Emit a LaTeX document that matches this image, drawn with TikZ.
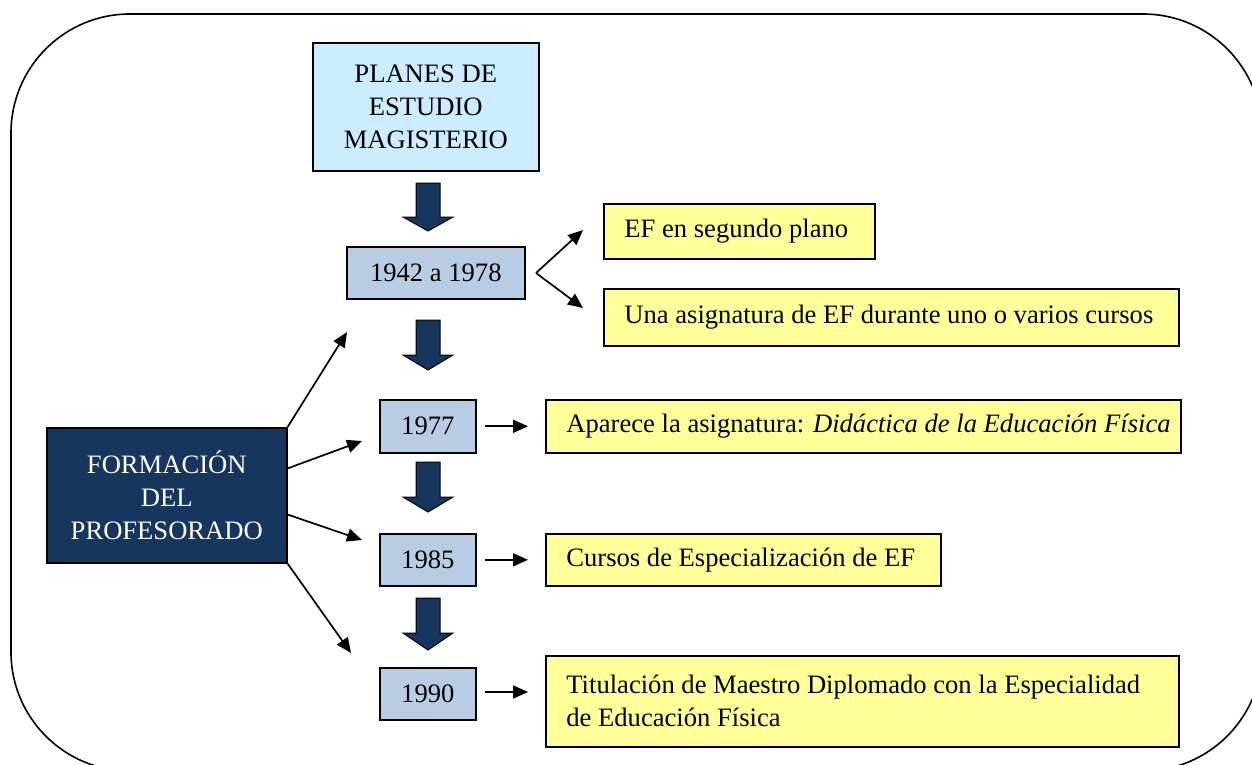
\documentclass[tikz,border=0pt]{standalone}
\usepackage{fontspec}
\setmainfont{Liberation Serif}
\usetikzlibrary{arrows.meta}
\definecolor{navy}{RGB}{23,54,93}
\definecolor{yearblue}{RGB}{184,204,228}
\definecolor{planblue}{RGB}{204,236,255}
\definecolor{noteyellow}{RGB}{255,255,153}
\tikzset{
  txt/.style={font=\fontsize{13.3}{16.5}\selectfont},
  box/.style={draw=black, line width=0.8pt, anchor=north west, inner sep=0pt, txt},
  yearbox/.style={box, fill=yearblue, minimum width=48pt, minimum height=26pt},
  notebox/.style={box, fill=noteyellow},
  notetext/.style={txt, anchor=west, inner sep=0pt, align=left},
  arr/.style={line width=0.85pt, -{Triangle[length=7.5pt,width=6.5pt]}},
  blk/.style={draw=black, line width=0.5pt, fill=navy},
  frame/.style={draw=black, line width=0.8pt, rounded corners=59.5pt}
}
\newcommand\blockarrow[4]{%
  \path[blk] ({#1-12},#2) -- ({#1+12},#2) -- ({#1+12},#3) -- ({#1+25},#3) --
    (#1,#4) -- ({#1-25},#3) -- ({#1-12},#3) -- cycle;}
\begin{document}
\begin{tikzpicture}[x=0.5pt,y=-0.5pt]
\useasboundingbox (0,0) rectangle (1252,765);
\begin{scope}
  \clip (0,0) rectangle (1252,765);
  \path[frame] (11,14) rectangle (1262,771);
\end{scope}

% main nodes
\node[box, fill=planblue, minimum width=113pt, minimum height=64pt, align=center]
  (planes) at (312,42) {PLANES DE\\ESTUDIO\\MAGISTERIO};
\node[box, fill=navy, text=white, minimum width=120pt, minimum height=67.5pt, align=center]
  (form) at (46,427) {FORMACIÓN\\DEL\\PROFESORADO};
\node[yearbox, minimum width=89pt] (y42) at (346,246) {1942 a 1978};
\node[yearbox, minimum height=26.5pt] (y77) at (379,399) {1977};
\node[yearbox] (y85) at (379,533) {1985};
\node[yearbox] (y90) at (379,667) {1990};

\node[notebox, minimum width=135.5pt, minimum height=27.5pt] (ef) at (603,203) {};
\node[notetext] (eft) at ([xshift=10.5pt]ef.west) {EF en segundo plano};
\node[notebox, minimum width=287.5pt, minimum height=28.5pt] (una) at (603,288) {};
\node[notetext] (unat) at ([xshift=10.5pt]una.west) {Una asignatura de EF durante uno o varios cursos};
\node[notebox, minimum width=317.5pt, minimum height=26.5pt] (apa) at (545,399) {};
\node[notetext] (apat) at ([xshift=10.5pt]apa.west)
  {Aparece la asignatura: \textit{Didáctica de la Educación Física}};
\node[notebox, minimum width=197.5pt, minimum height=26pt] (cur) at (545,533) {};
\node[notetext] (curt) at ([xshift=10.5pt]cur.west) {Cursos de Especialización de EF};
\node[notebox, minimum width=316.5pt, minimum height=45.5pt] (tit) at (545,655) {};
\node[notetext] (titt) at ([xshift=10.5pt]tit.west)
  {Titulación de Maestro Diplomado con la Especialidad\\de Educación Física};

% block arrows
\blockarrow{428}{183}{217}{231}
\blockarrow{428}{320}{355}{370}
\blockarrow{428}{462}{497}{512}
\blockarrow{428}{598}{633}{650}

% free ends of connectors
\coordinate (s42) at (536,273);
\coordinate (tef) at (583,230);
\coordinate (tuna) at (583,308);
\coordinate (f1) at (347,332);
\coordinate (f2) at (362,441);
\coordinate (f3) at (362,540);
\coordinate (f4) at (351,653);
\coordinate (fa) at (286,469);
\coordinate (fb) at (286,514);

\draw[arr] (s42) -- (tef);
\draw[arr] (s42) -- (tuna);
\draw[arr] ([xshift=4pt]y77.east) -- ([xshift=-8.5pt]apa.west);
\draw[arr] ([xshift=4pt]y85.east) -- ([xshift=-8.5pt]cur.west);
\draw[arr] ([xshift=4pt]y90.east |- 0,692) -- ([xshift=-8.5pt]tit.west |- 0,692);

\draw[arr] (form.north east) -- (f1);
\draw[arr] (fa) -- (f2);
\draw[arr] (fb) -- (f3);
\draw[arr] (form.south east) -- (f4);
\end{tikzpicture}
\end{document}
